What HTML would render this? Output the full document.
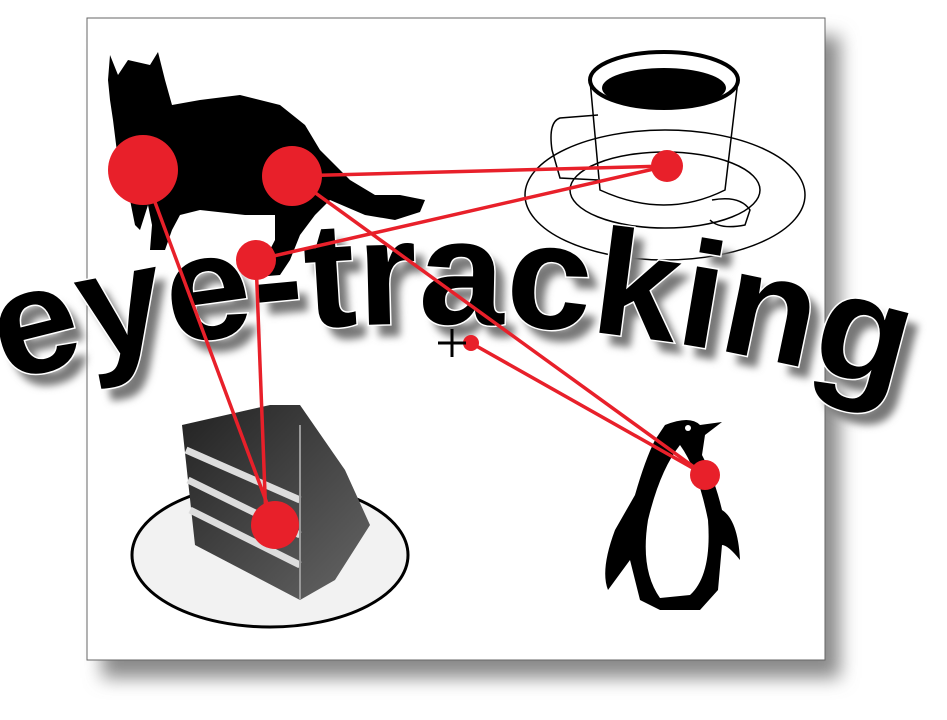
<!DOCTYPE html>
<html><head><meta charset="utf-8"><style>
html,body{margin:0;padding:0;background:#fff;width:947px;height:720px;overflow:hidden}
</style></head><body>
<svg width="947" height="720" viewBox="0 0 947 720" xmlns="http://www.w3.org/2000/svg">
<defs>
<filter id="sh" x="-10%" y="-10%" width="130%" height="130%"><feGaussianBlur stdDeviation="9"/></filter>
<filter id="tsh" x="-10%" y="-20%" width="130%" height="150%"><feGaussianBlur stdDeviation="4"/></filter>
<linearGradient id="cg" x1="0" y1="0" x2="1" y2="1"><stop offset="0" stop-color="#222"/><stop offset="1" stop-color="#666"/></linearGradient>
<path id="arc" d="M 5 382 Q 450 258 915 398"/>
<path id="arc2" d="M 15 394 Q 460 270 925 410"/>
</defs>
<rect x="102" y="36" width="738" height="642" fill="#8a8a8a" filter="url(#sh)"/>
<rect x="87" y="18" width="738" height="642" fill="#fff" stroke="#666" stroke-width="1"/>

<g fill="none" stroke="#000" stroke-width="1.5">
<ellipse cx="665" cy="195" rx="140" ry="65"/>
<ellipse cx="665" cy="190" rx="95" ry="38"/>
<path d="M590 80 L600 190 Q665 220 725 190 L738 80"/>
<path d="M598 115 L560 118 Q548 122 552 150 L560 178 L598 180"/>
<path d="M712 200 Q740 195 750 210 L745 225 Q720 230 710 220"/>
</g>
<ellipse cx="664" cy="80" rx="74" ry="28" fill="#fff" stroke="#000" stroke-width="4"/>
<ellipse cx="664" cy="88" rx="62" ry="20" fill="#000"/>

<path fill="#000" d="M110 55 L118 75 L128 60 L150 65 L158 52 L165 80 L172 105 L200 100 L240 95 L280 105 L305 125 L320 150 L350 180 L375 195 L400 195 L425 200 L420 212 L395 220 L365 215 L330 200 L315 215 L300 235 L290 260 L280 275 L268 276 L262 265 L275 240 L275 215 L245 215 L200 210 L180 215 L172 230 L165 250 L150 250 L152 225 L148 205 L140 230 L135 225 L130 200 L125 180 L118 160 L113 120 L110 100 L108 80 Z"/>

<ellipse cx="270" cy="555" rx="138" ry="72" fill="#f2f2f2" stroke="#000" stroke-width="3"/>
<path d="M182 425 L270 405 L300 405 L345 470 L370 525 L335 580 L300 600 L195 545 Z" fill="url(#cg)"/>
<g stroke="#ddd" stroke-width="7" fill="none">
<path d="M186 450 L300 500"/><path d="M188 480 L300 535"/><path d="M190 510 L300 565"/>
</g>
<path d="M300 425 L300 600" stroke="#999" stroke-width="2"/>

<path fill="#000" d="M665 425 Q690 415 700 425 L722 422 L705 435 L702 455 Q715 480 722 510 Q738 520 740 560 Q728 545 722 545 L718 590 L700 610 L660 610 L640 600 L630 560 L608 590 Q600 570 615 530 L635 495 Q645 460 655 440 Z"/>
<path fill="#fff" d="M680 445 Q698 470 708 520 Q712 575 690 595 L660 598 Q640 570 648 520 Q660 470 680 445 Z"/>
<circle cx="688" cy="428" r="3" fill="#fff"/>

<text font-family="Liberation Sans, sans-serif" font-weight="bold" font-size="150" fill="#777" filter="url(#tsh)"><textPath href="#arc2" textLength="905" lengthAdjust="spacingAndGlyphs">eye-tracking</textPath></text>
<text font-family="Liberation Sans, sans-serif" font-weight="bold" font-size="150" fill="#000" stroke="#fff" stroke-width="3" paint-order="stroke"><textPath href="#arc" textLength="905" lengthAdjust="spacingAndGlyphs">eye-tracking</textPath></text>

<g stroke="#e8202a" stroke-width="3.5" fill="none">
<line x1="143" y1="170" x2="275" y2="525"/>
<line x1="292" y1="176" x2="667" y2="166"/>
<line x1="667" y1="166" x2="256" y2="260"/>
<line x1="256" y1="260" x2="266" y2="520"/>
<line x1="292" y1="176" x2="705" y2="475"/>
<line x1="471" y1="343" x2="705" y2="475"/>
</g>
<g fill="#e8202a">
<circle cx="143" cy="170" r="35"/>
<circle cx="292" cy="176" r="30"/>
<circle cx="256" cy="260" r="20"/>
<circle cx="667" cy="166" r="16"/>
<circle cx="275" cy="525" r="24"/>
<circle cx="705" cy="475" r="15"/>
<circle cx="471" cy="343" r="8"/>
</g>
<g stroke="#000" stroke-width="3"><line x1="438" y1="343" x2="466" y2="343"/><line x1="452" y1="329" x2="452" y2="357"/></g>
</svg>
</body></html>
